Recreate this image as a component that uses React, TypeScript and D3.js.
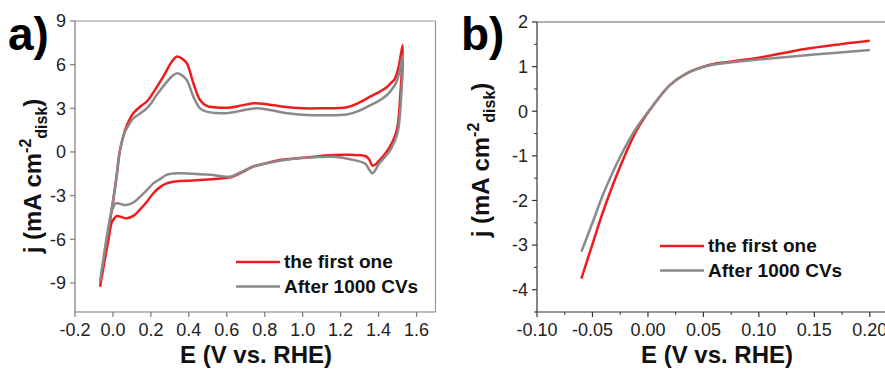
import React from "react";
import * as d3 from "d3";

// ---------- Data ----------
// Panel a: cyclic voltammograms (E in V vs RHE, j in mA cm^-2)
const cvFirstE = [-0.068, -0.033, 0.002, 0.02, 0.037, 0.064, 0.09, 0.107, 0.143, 0.178, 0.204, 0.265, 0.31, 0.336, 0.36, 0.389, 0.424, 0.459, 0.494, 0.564, 0.62, 0.68, 0.74, 0.8, 0.9, 1.0, 1.1, 1.232, 1.3, 1.355, 1.4, 1.443, 1.47, 1.487, 1.505, 1.527, 1.515, 1.496, 1.46, 1.43, 1.4, 1.385, 1.367, 1.35, 1.329, 1.25, 1.162, 1.0, 0.88, 0.8, 0.74, 0.68, 0.617, 0.564, 0.5, 0.42, 0.353, 0.283, 0.25, 0.213, 0.18, 0.143, 0.11, 0.072, 0.04, 0.02, 0.005, -0.0065, -0.024, -0.068];
const cvFirstJ = [-9.26, -6.2, -3.3, -1.6, 0.13, 1.5, 2.3, 2.66, 3.11, 3.46, 3.91, 5.17, 6.2, 6.55, 6.45, 6.1, 4.72, 3.57, 3.16, 3.04, 3.05, 3.2, 3.34, 3.3, 3.1, 3.0, 3.0, 3.07, 3.4, 3.8, 4.1, 4.44, 4.8, 5.06, 5.8, 7.35, 4.0, 1.5, 0.36, -0.2, -0.65, -0.85, -0.94, -0.5, -0.28, -0.2, -0.21, -0.4, -0.55, -0.8, -1.0, -1.4, -1.75, -1.82, -1.9, -1.97, -2.0, -2.16, -2.4, -2.84, -3.4, -3.95, -4.38, -4.56, -4.45, -4.4, -4.6, -4.85, -6.05, -9.26];

const cvAfterE = [-0.068, -0.033, 0.002, 0.02, 0.037, 0.064, 0.09, 0.107, 0.143, 0.178, 0.204, 0.23, 0.283, 0.315, 0.336, 0.36, 0.389, 0.424, 0.459, 0.494, 0.564, 0.62, 0.68, 0.76, 0.82, 0.9, 1.0, 1.1, 1.232, 1.3, 1.355, 1.4, 1.443, 1.47, 1.49, 1.51, 1.529, 1.52, 1.5, 1.465, 1.43, 1.4, 1.385, 1.367, 1.35, 1.329, 1.25, 1.162, 1.0, 0.88, 0.8, 0.74, 0.68, 0.617, 0.564, 0.5, 0.42, 0.336, 0.283, 0.25, 0.213, 0.18, 0.143, 0.11, 0.072, 0.045, 0.028, 0.012, 0.0, -0.01, -0.068];
const cvAfterJ = [-8.9, -6.0, -3.2, -1.6, 0.1, 1.4, 2.0, 2.31, 2.65, 3.0, 3.4, 3.91, 4.8, 5.25, 5.4, 5.3, 4.95, 3.8, 3.0, 2.77, 2.66, 2.7, 2.85, 3.0, 2.9, 2.7, 2.55, 2.52, 2.57, 2.85, 3.2, 3.5, 3.9, 4.3, 4.7, 5.5, 6.66, 4.0, 1.3, 0.2, -0.4, -0.85, -1.2, -1.47, -1.2, -0.8, -0.5, -0.33, -0.42, -0.6, -0.8, -1.0, -1.35, -1.7, -1.65, -1.55, -1.5, -1.47, -1.58, -1.85, -2.16, -2.6, -3.07, -3.45, -3.65, -3.6, -3.53, -3.55, -3.85, -4.2, -8.9];

// Panel b: polarization curves
const lsvFirstE = [-0.06, -0.05, -0.04, -0.025, -0.01, 0.005, 0.02, 0.035, 0.056, 0.074, 0.1, 0.143, 0.2];
const lsvFirstJ = [-3.75, -2.98, -2.22, -1.24, -0.42, 0.14, 0.59, 0.85, 1.04, 1.11, 1.2, 1.4, 1.58];
const lsvAfterE = [-0.06, -0.05, -0.04, -0.025, -0.01, 0.005, 0.02, 0.035, 0.056, 0.074, 0.1, 0.15, 0.2];
const lsvAfterJ = [-3.15, -2.5, -1.84, -1.02, -0.36, 0.14, 0.59, 0.85, 1.03, 1.09, 1.16, 1.27, 1.37];

const seriesNames = ["the first one", "After 1000 CVs"];
const seriesColors = ["#ee1c1c", "#8a8a8a"];

const aXTicks = [-0.2, 0.0, 0.2, 0.4, 0.6, 0.8, 1.0, 1.2, 1.4, 1.6];
const aYTicks = [-9, -6, -3, 0, 3, 6, 9];
const bXTicks = [-0.1, -0.05, 0.0, 0.05, 0.1, 0.15, 0.2];
const bYTicks = [-4, -3, -2, -1, 0, 1, 2];
const bXMinor = [-0.075, -0.025, 0.025, 0.075, 0.125, 0.175, 0.225];
const bYMinor = [-4.5, -3.5, -2.5, -1.5, -0.5, 0.5, 1.5];

const FONT = "'Liberation Sans', Arial, sans-serif";

type Pt = [number, number];
const zip = (xs: number[], ys: number[]): Pt[] => xs.map((x, i) => [x, ys[i]]);

function YLabel({ x, y }: { x: number; y: number }) {
  return (
    <text
      transform={`translate(${x},${y}) rotate(-90)`}
      textAnchor="middle"
      fontFamily={FONT}
      fontWeight="bold"
      fontSize={24}
      fill="#111"
    >
      j (mA cm
      <tspan fontSize={16} dy={-10}>-2</tspan>
      <tspan fontSize={16} dy={16}>disk</tspan>
      <tspan dy={-6}>)</tspan>
    </text>
  );
}

function Legend({ x, y }: { x: number; y: number }) {
  return (
    <g>
      {seriesNames.map((n, i) => (
        <g key={n} transform={`translate(${x},${y + i * 24.5})`}>
          <line x1={0} x2={44} y1={0} y2={0} stroke={seriesColors[i]} strokeWidth={2.5} />
          <text x={48} y={6.3} fontFamily={FONT} fontWeight="bold" fontSize={19} fill="#111">
            {n}
          </text>
        </g>
      ))}
    </g>
  );
}

export default function App() {
  // Panel a
  const ax = d3.scaleLinear().domain([-0.2, 1.7]).range([75, 435.5]);
  const ay = d3.scaleLinear().domain([-11, 9]).range([312, 21]);
  // Panel b
  const bx = d3.scaleLinear().domain([-0.1, 0.22]).range([537, 892]);
  const by = d3.scaleLinear().domain([-4.5, 2]).range([312, 22]);

  const lineA = d3.line<Pt>().x((d) => ax(d[0])).y((d) => ay(d[1])).curve(d3.curveCatmullRom.alpha(0.5));
  const lineB = d3.line<Pt>().x((d) => bx(d[0])).y((d) => by(d[1])).curve(d3.curveCatmullRom.alpha(0.5));

  const cvSeries = [zip(cvFirstE, cvFirstJ), zip(cvAfterE, cvAfterJ)];
  const lsvSeries = [zip(lsvFirstE, lsvFirstJ), zip(lsvAfterE, lsvAfterJ)];

  const axisA = "#7a7a7a";
  const axisB = "#333";
  const frameCol = "#999";
  const tickCol = "#222";

  return (
    <svg
      width={885}
      height={378}
      style={{ position: "absolute", left: 0, top: 0, background: "#fff" }}
    >
      <rect x={0} y={0} width={885} height={378} fill="#fff" />
      {/* Panel labels */}
      <text x={8} y={50} fontFamily={FONT} fontWeight="bold" fontSize={46} fill="#000">a)</text>
      <text x={461} y={50} fontFamily={FONT} fontWeight="bold" fontSize={46} fill="#000">b)</text>

      {/* ===== Panel a ===== */}
      <g>
        <line x1={ax(-0.2)} x2={ax(1.7)} y1={ay(9)} y2={ay(9)} stroke={frameCol} strokeWidth={1.2} />
        <line x1={ax(1.7)} x2={ax(1.7)} y1={ay(9)} y2={ay(-11)} stroke={frameCol} strokeWidth={1.2} />
        <line x1={ax(-0.2)} x2={ax(-0.2)} y1={ay(9)} y2={ay(-11)} stroke={axisA} strokeWidth={1.2} />
        <line x1={ax(-0.2)} x2={ax(1.7)} y1={ay(-11)} y2={ay(-11)} stroke={axisA} strokeWidth={1.2} />
        {aXTicks.map((t) => (
          <g key={`ax${t}`}>
            <line x1={ax(t)} x2={ax(t)} y1={ay(-11)} y2={ay(-11) + 5} stroke={axisA} strokeWidth={1.2} />
            <text x={ax(t)} y={336} textAnchor="middle" fontFamily={FONT} fontSize={18} fill={tickCol}>
              {t.toFixed(1)}
            </text>
          </g>
        ))}
        {aYTicks.map((t) => (
          <g key={`ay${t}`}>
            <line x1={ax(-0.2) - 5} x2={ax(-0.2)} y1={ay(t)} y2={ay(t)} stroke={axisA} strokeWidth={1.2} />
            <text x={ax(-0.2) - 9} y={ay(t) + 6.3} textAnchor="end" fontFamily={FONT} fontSize={18} fill={tickCol}>
              {t}
            </text>
          </g>
        ))}
        {cvSeries.map((s, i) => (
          <path key={`cv${i}`} d={lineA(s) ?? ""} fill="none" stroke={seriesColors[i]} strokeWidth={2.5} strokeLinejoin="round" />
        ))}
        <Legend x={236} y={262} />
        <text x={256} y={363} textAnchor="middle" fontFamily={FONT} fontWeight="bold" fontSize={24} fill="#111">
          E (V vs. RHE)
        </text>
        <YLabel x={41} y={176} />
      </g>

      {/* ===== Panel b ===== */}
      <g>
        <line x1={bx(-0.1)} x2={bx(0.22)} y1={by(2)} y2={by(2)} stroke={frameCol} strokeWidth={1.5} />
        <line x1={bx(-0.1)} x2={bx(-0.1)} y1={by(2)} y2={by(-4.5)} stroke={axisB} strokeWidth={1.2} />
        <line x1={bx(-0.1)} x2={bx(0.22)} y1={by(-4.5)} y2={by(-4.5)} stroke={axisB} strokeWidth={1.2} />
        {bXTicks.map((t) => (
          <g key={`bx${t}`}>
            <line x1={bx(t)} x2={bx(t)} y1={by(-4.5)} y2={by(-4.5) + 5} stroke={axisB} strokeWidth={1.2} />
            <text x={bx(t)} y={336} textAnchor="middle" fontFamily={FONT} fontSize={18} fill={tickCol}>
              {t.toFixed(2)}
            </text>
          </g>
        ))}
        {bXMinor.map((t) => (
          <line key={`bxm${t}`} x1={bx(t)} x2={bx(t)} y1={by(-4.5)} y2={by(-4.5) + 3} stroke={axisB} strokeWidth={1} />
        ))}
        {bYTicks.map((t) => (
          <g key={`by${t}`}>
            <line x1={bx(-0.1) - 5} x2={bx(-0.1)} y1={by(t)} y2={by(t)} stroke={axisB} strokeWidth={1.2} />
            <text x={bx(-0.1) - 9} y={by(t) + 6.3} textAnchor="end" fontFamily={FONT} fontSize={18} fill={tickCol}>
              {t}
            </text>
          </g>
        ))}
        {bYMinor.map((t) => (
          <line key={`bym${t}`} x1={bx(-0.1) - 3} x2={bx(-0.1)} y1={by(t)} y2={by(t)} stroke={axisB} strokeWidth={1} />
        ))}
        {lsvSeries.map((s, i) => (
          <path key={`lsv${i}`} d={lineB(s) ?? ""} fill="none" stroke={seriesColors[i]} strokeWidth={2.5} strokeLinejoin="round" />
        ))}
        <Legend x={660} y={246} />
        <text x={717} y={363} textAnchor="middle" fontFamily={FONT} fontWeight="bold" fontSize={24} fill="#111">
          E (V vs. RHE)
        </text>
        <YLabel x={489} y={160} />
      </g>
    </svg>
  );
}
